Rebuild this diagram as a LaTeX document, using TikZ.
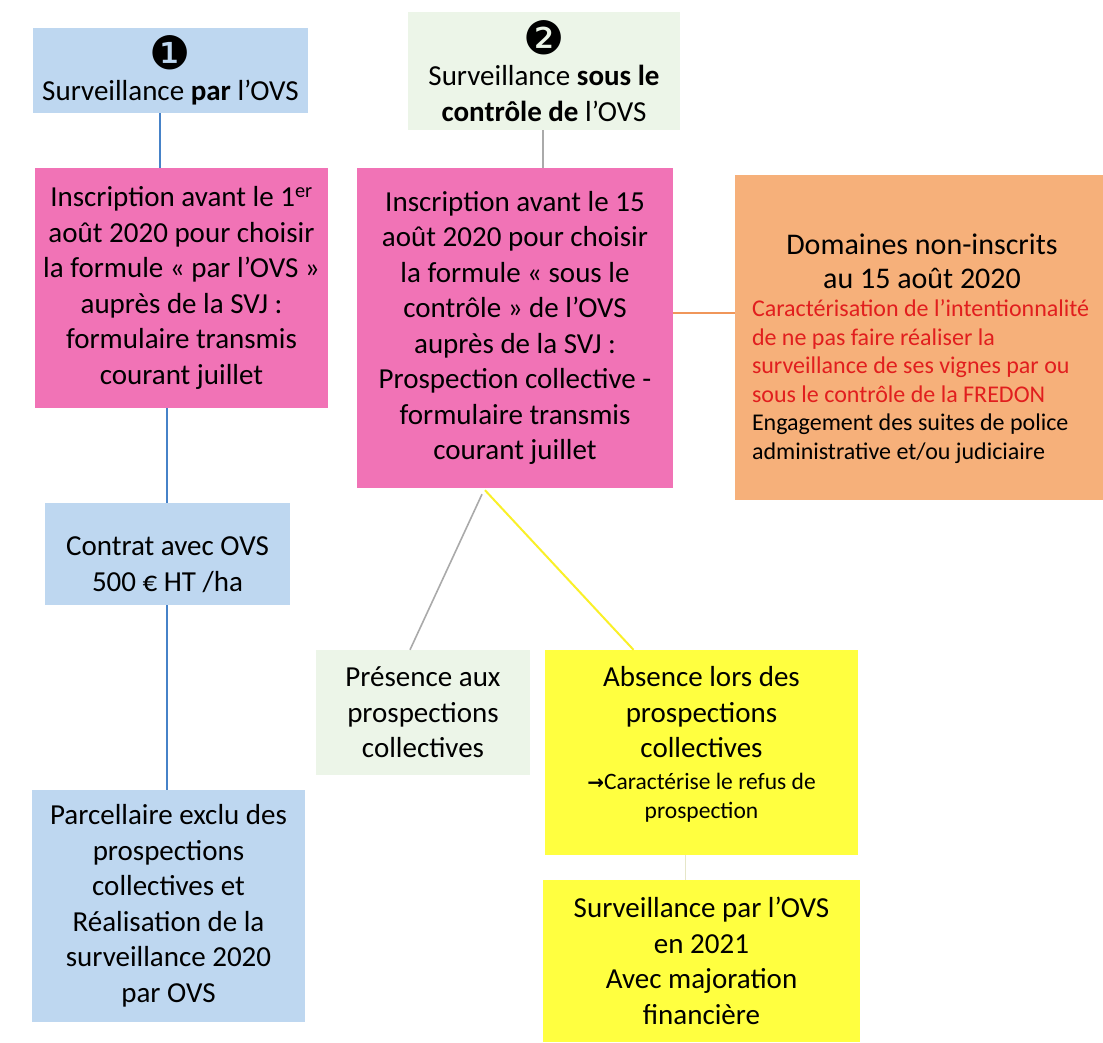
\documentclass[tikz,border=0pt]{standalone}
\usepackage{fontspec}
\setmainfont{Carlito}
\newfontfamily\dejavu{DejaVu Sans}
\usetikzlibrary{calc}
\definecolor{cblue}{RGB}{190,215,240}
\definecolor{cgreen}{RGB}{236,245,232}
\definecolor{cpink}{RGB}{241,115,182}
\definecolor{corange}{RGB}{246,176,122}
\definecolor{cyellow}{RGB}{255,255,64}
\definecolor{cred}{RGB}{225,30,30}
\definecolor{lblue}{RGB}{70,130,200}
\definecolor{lgray}{RGB}{170,170,170}
\definecolor{lorange}{RGB}{240,150,90}
\definecolor{lyellow}{RGB}{250,240,40}
\definecolor{lpale}{RGB}{230,230,200}
\begin{document}
\begin{tikzpicture}[x=1pt,y=-1pt,
  box/.style={inner sep=0pt, align=center, font=\fontsize{29}{35.5}\selectfont},
  blueline/.style={draw=lblue, line width=2pt},
  grayline/.style={draw=lgray, line width=1.6pt},
  orangeline/.style={draw=lorange, line width=2pt},
  yellowline/.style={draw=lyellow, line width=2pt},
  paleline/.style={draw=lpale, line width=1.6pt}]
\useasboundingbox[fill=white] (0,0) rectangle (1103,1042);

\node[box, fill=cblue, minimum width=275pt, minimum height=85pt] (b1) at (170.5,70.5)
  {{\dejavu\fontsize{46}{30}\selectfont ❶}\\[-4pt]Surveillance \textbf{par} l’OVS};
\node[box, fill=cgreen, minimum width=272pt, minimum height=118pt] (b2) at (544,71)
  {{\dejavu\fontsize{46}{30}\selectfont ❷}\\[-4pt]Surveillance \textbf{sous le}\\\textbf{contrôle de} l’OVS};

\node[box, fill=cpink, minimum width=293pt, minimum height=240pt] (p1) at (181.5,288)
  {Inscription avant le 1\textsuperscript{er}\\août 2020 pour choisir\\la formule «~par l’OVS~»\\auprès de la SVJ :\\formulaire transmis\\courant juillet};
\node[box, fill=cpink, minimum width=316pt, minimum height=320pt] (p2) at (515,328)
  {Inscription avant le 15\\août 2020 pour choisir\\la formule «~sous le\\contrôle~» de l’OVS\\auprès de la SVJ :\\Prospection collective -\\formulaire transmis\\courant juillet};

\node[inner sep=0pt, fill=corange, minimum width=368pt, minimum height=325pt] (or) at (919,337.5)
  {\begin{minipage}{346pt}\vspace*{22pt}\hspace*{6pt}\begin{minipage}{340pt}\centering\fontsize{30}{34}\selectfont Domaines non-inscrits\\au 15 août 2020\par
   \raggedright\fontsize{24}{28.5}\selectfont\color{cred}Caractérisation de l’intentionnalité\\de ne pas faire réaliser la\\surveillance de ses vignes par ou\\sous le contrôle de la FREDON\par
   \color{black}Engagement des suites de police\\administrative et/ou judiciaire\end{minipage}\end{minipage}};

\node[box, fill=cblue, minimum width=245pt, minimum height=102pt] (ct) at (167.5,554)
  {\rule{0pt}{40pt}Contrat avec OVS\\500 € HT /ha};
\node[box, fill=cblue, minimum width=273pt, minimum height=232pt] (pa) at (168.5,906)
  {Parcellaire exclu des\\prospections\\collectives et\\Réalisation de la\\surveillance 2020\\par OVS};

\node[box, fill=cgreen, minimum width=214pt, minimum height=125pt] (pr) at (423,712.5)
  {Présence aux\\prospections\\collectives};
\node[box, fill=cyellow, minimum width=313pt, minimum height=205pt] (ab) at (701.5,752.5)
  {Absence lors des\\prospections\\collectives\\[-4pt]\fontsize{23.5}{29}\selectfont{\dejavu\bfseries\fontsize{20}{29}\selectfont →}Caractérise le refus de\\[-6pt]\fontsize{23.5}{29}\selectfont prospection\rule[-20pt]{0pt}{0pt}};
\node[box, fill=cyellow, minimum width=317pt, minimum height=162pt] (fi) at (701.5,961)
  {Surveillance par l’OVS\\en 2021\\Avec majoration\\financière};

\coordinate (x160) at (160,0);
\coordinate (x543) at (543,0);
\coordinate (x167) at (167,0);
\coordinate (y313) at (0,313);

\draw[blueline] (b1.south -| x160) -- (p1.north -| x160);
\draw[grayline] (b2.south -| x543) -- (p2.north -| x543);
\draw[orangeline] (p2.east |- y313) -- (or.west |- y313);
\draw[blueline] (p1.south -| x167) -- (ct.north -| x167);
\draw[blueline] (ct.south -| x167) -- (pa.north -| x167);
\draw[grayline] ($(p2.south)+(-33,6)$) -- ($(pr.north)+(-13,0)$);
\draw[yellowline] ($(p2.south)+(-30,2)$) -- ($(ab.north)+(-68,0)$);
\draw[paleline] ($(ab.south)+(-16,0)$) -- ($(fi.north)+(-16,0)$);
\end{tikzpicture}
\end{document}
